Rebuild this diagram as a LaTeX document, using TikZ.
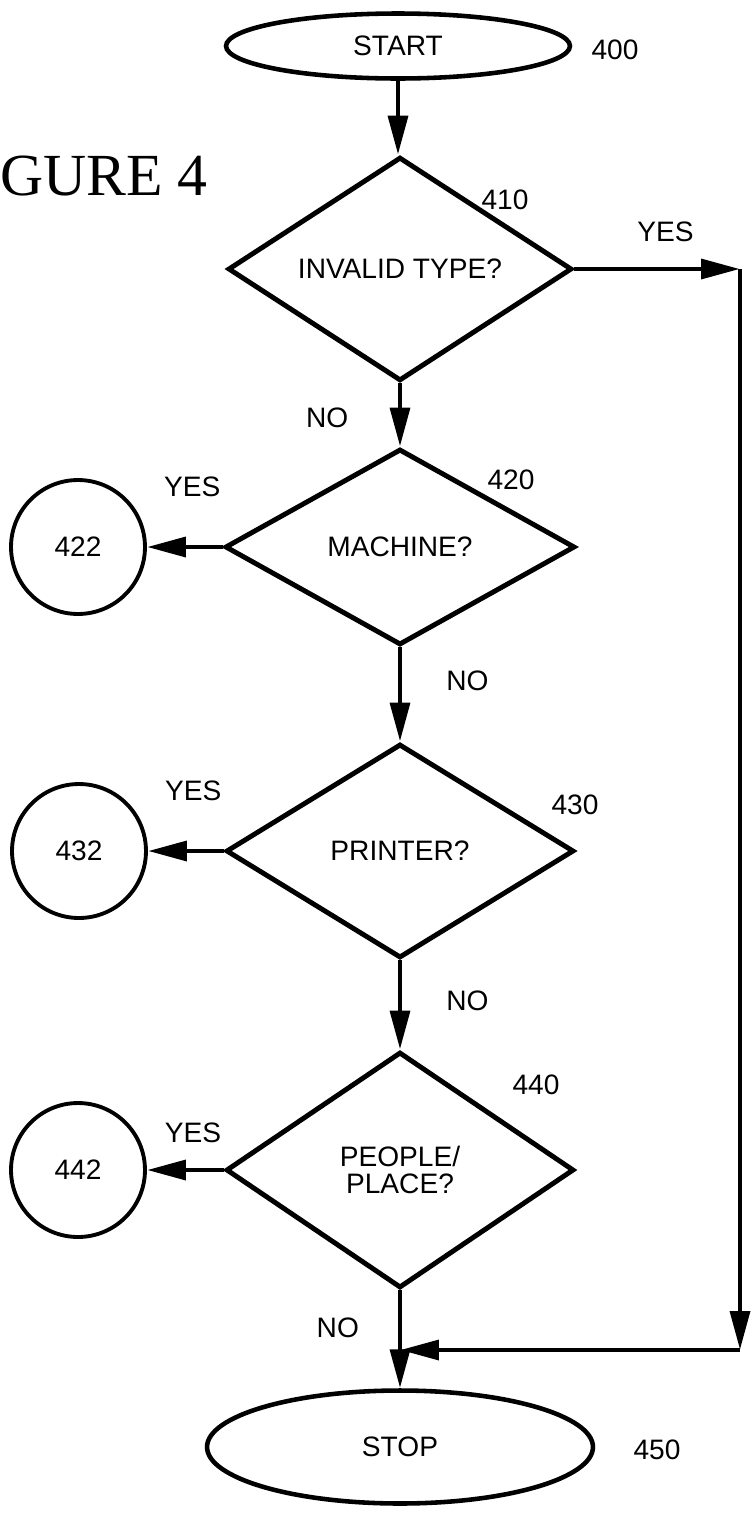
\documentclass[tikz,border=0pt]{standalone}
\usepackage{fontspec}
\setmainfont{Liberation Sans}
\newfontfamily\figfont{Liberation Serif}
\usetikzlibrary{arrows.meta, shapes.geometric}

\begin{document}
\begin{tikzpicture}[
  x=0.02cm, y=-0.02cm,
  font=\fontsize{16}{19}\selectfont,
  terminal/.style={ellipse, draw, line width=2.6pt, inner sep=0pt},
  decision/.style={diamond, draw, line width=2.8pt, inner sep=0pt, align=center},
  connector/.style={circle, draw, line width=2.2pt, minimum size=2.68cm, inner sep=0pt},
  flow/.style={-{Triangle[length=7.8mm, width=3.9mm]}, line width=2.8pt},
  tag/.style={inner sep=0pt}
]
\useasboundingbox (0,0) rectangle (751,1515);

\node[anchor=base west, inner sep=0pt, font=\figfont\fontsize{34}{36}\selectfont] (fig) at (0,195) {GURE 4};

\node[terminal, minimum width=6.88cm, minimum height=1.3cm] (start) at (398,46) {START};
\node[decision, minimum width=6.88cm, minimum height=4.24cm] (d410) at (400,269) {INVALID TYPE?};
\node[decision, minimum width=7cm, minimum height=3.92cm] (d420) at (400,547) {MACHINE?};
\node[decision, minimum width=6.96cm, minimum height=4.28cm] (d430) at (400,851) {PRINTER?};
\node[decision, minimum width=6.96cm, minimum height=4.72cm, font=\fontsize{16}{15}\selectfont] (d440) at (400,1170) {PEOPLE/\\PLACE?};
\node[terminal, minimum width=7.72cm, minimum height=2.26cm] (stop) at (400,1447) {STOP};

\node[connector] (c422) at (78,547) {422};
\node[connector] (c432) at (79,851) {432};
\node[connector] (c442) at (78,1170) {442};

\coordinate (turn1) at (740,269);
\coordinate (turn2) at (740,1350);
\coordinate (merge) at (400,1350);

% labels
\node[tag] (l400) at (615,50) {400};
\node[tag] (l410) at (505,200) {410};
\node[tag] (l420) at (511,480) {420};
\node[tag] (l430) at (575,805) {430};
\node[tag] (l440) at (536,1085) {440};
\node[tag] (l450) at (657,1450) {450};

% flow
\draw[flow] (start.south) -- (start.south |- d410.north);
\draw[flow] (d410.south) -- node[tag, pos=0.55, left=28pt] {NO} (d420.north);
\draw[flow] (d420.south) -- node[tag, pos=0.35, right=25pt] {NO} (d430.north);
\draw[flow] (d430.south) -- node[tag, pos=0.45, right=25pt] {NO} (d440.north);
\draw[flow] (d440.south) -- node[tag, pos=0.38, left=22pt] {NO} (stop.north);

\draw[flow] (d410.east) -- node[tag, pos=0.55, above=14pt] {YES} (turn1);
\draw[flow] (turn1) -- (turn2);
\draw[flow] (turn2) -- (merge);

\draw[flow] (d420.west) -- node[tag, pos=0.4, above=27pt] {YES} (c422);
\draw[flow] (d430.west) -- node[tag, pos=0.4, above=27pt] {YES} (c432);
\draw[flow] (d440.west) -- node[tag, pos=0.4, above=14pt] {YES} (c442);
\end{tikzpicture}
\end{document}
